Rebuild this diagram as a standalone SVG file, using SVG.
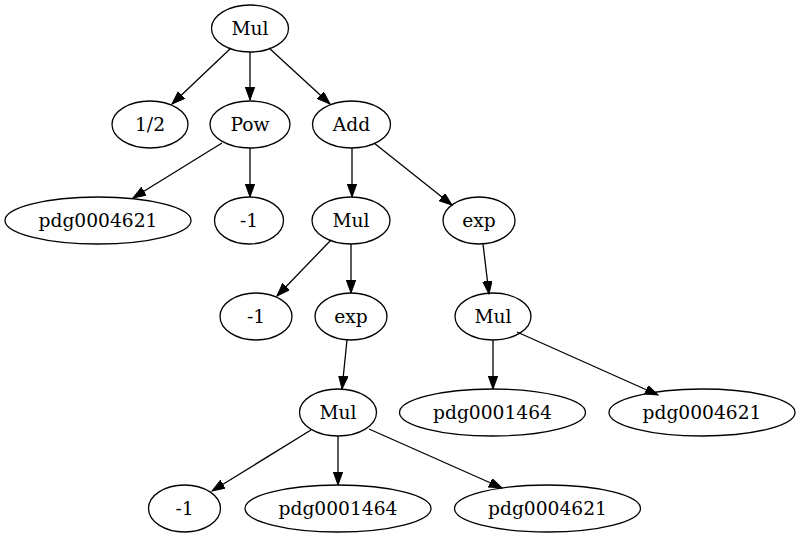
<svg xmlns="http://www.w3.org/2000/svg" width="800" height="539" viewBox="0 0 800 539">
<style>
ellipse{fill:none;stroke:#000;stroke-width:1.3}
text{font-family:"DejaVu Serif","Liberation Serif",serif;font-size:18.67px;text-anchor:middle;fill:#000}
#edges path{fill:none;stroke:#000;stroke-width:1.3;marker-end:url(#ah)}
</style>
<defs>
<marker id="ah" markerUnits="userSpaceOnUse" markerWidth="14" markerHeight="10" refX="13" refY="4.7" orient="auto" viewBox="0 0 14 10">
<path d="M0,0 L13,4.7 L0,9.4 z" fill="#000" stroke="#000" stroke-width="1"/>
</marker>
</defs>
<rect width="800" height="539" fill="#fff"/>
<g id="edges">
<path d="M231,48 L172,104"/>
<path d="M250,52 L250,100"/>
<path d="M269,48 L330,104"/>
<path d="M222,143 L133,198"/>
<path d="M250,148 L250,197"/>
<path d="M352,148 L352,197"/>
<path d="M374,143 L452,205"/>
<path d="M331,240 L277,296"/>
<path d="M351,244 L351,293"/>
<path d="M483,244 L489,294"/>
<path d="M347,340 L342,389"/>
<path d="M493,340 L493,389"/>
<path d="M517,332 L658,395"/>
<path d="M311,430 L212,491"/>
<path d="M338,436 L338,485"/>
<path d="M369,429 L502,488"/>
</g>
<g id="n1"><ellipse cx="250" cy="28.5" rx="38.5" ry="23.5"/><text x="250" y="35">Mul</text></g>
<g id="n2"><ellipse cx="150" cy="124.5" rx="38" ry="23.5"/><text x="150" y="131">1/2</text></g>
<g id="n3"><ellipse cx="250" cy="124.5" rx="40" ry="23.5"/><text x="250" y="131">Pow</text></g>
<g id="n4"><ellipse cx="351.5" cy="124.5" rx="39" ry="23.5"/><text x="351.5" y="131">Add</text></g>
<g id="n5"><ellipse cx="98" cy="220.5" rx="93" ry="23.5"/><text x="98" y="227">pdg0004621</text></g>
<g id="n6"><ellipse cx="249" cy="220.5" rx="34.5" ry="23.5"/><text x="249" y="227">-1</text></g>
<g id="n7"><ellipse cx="351" cy="220.5" rx="39" ry="23.5"/><text x="351" y="227">Mul</text></g>
<g id="n8"><ellipse cx="479" cy="220.5" rx="36" ry="23.5"/><text x="479" y="227">exp</text></g>
<g id="n9"><ellipse cx="256" cy="316.5" rx="36" ry="23.5"/><text x="256" y="323">-1</text></g>
<g id="n10"><ellipse cx="351" cy="316.5" rx="36" ry="23.5"/><text x="351" y="323">exp</text></g>
<g id="n11"><ellipse cx="493" cy="316.5" rx="38" ry="23.5"/><text x="493" y="323">Mul</text></g>
<g id="n12"><ellipse cx="338" cy="412.5" rx="38.5" ry="23.5"/><text x="338" y="419">Mul</text></g>
<g id="n13"><ellipse cx="492.5" cy="412.5" rx="93" ry="23.5"/><text x="492.5" y="419">pdg0001464</text></g>
<g id="n14"><ellipse cx="702" cy="412.5" rx="93" ry="23.5"/><text x="702" y="419">pdg0004621</text></g>
<g id="n15"><ellipse cx="184.5" cy="508.5" rx="36" ry="23.5"/><text x="184.5" y="515">-1</text></g>
<g id="n16"><ellipse cx="338" cy="508.5" rx="93" ry="23.5"/><text x="338" y="515">pdg0001464</text></g>
<g id="n17"><ellipse cx="547.5" cy="508.5" rx="93" ry="23.5"/><text x="547.5" y="515">pdg0004621</text></g>
</svg>
